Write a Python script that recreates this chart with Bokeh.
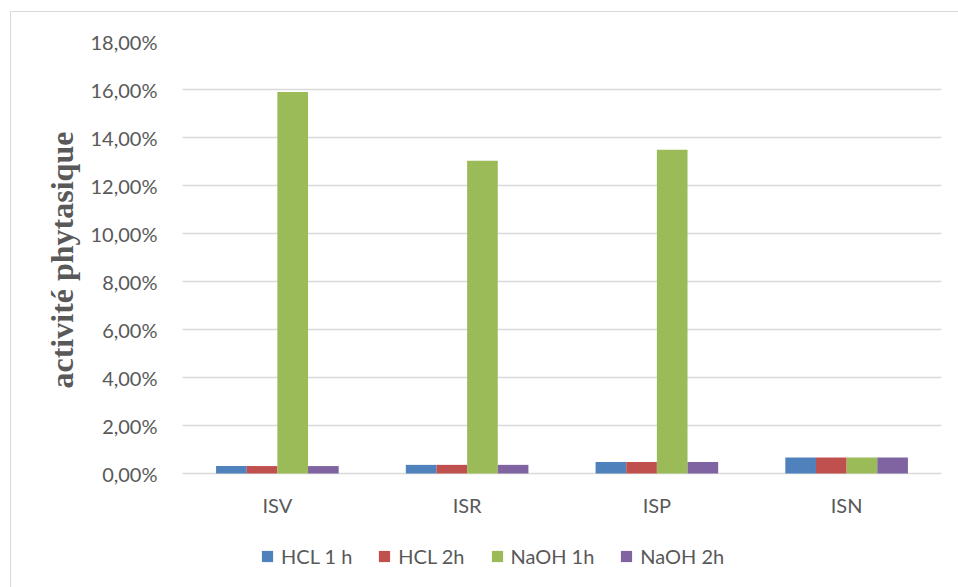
from bokeh.plotting import figure
from bokeh.models import (ColumnDataSource, FactorRange, Range1d, FixedTicker,
                          Legend, LegendItem, Title)
from bokeh.core.properties import value
from bokeh.transform import dodge
from bokeh.embed import file_html
from bokeh.resources import INLINE

# Phytase activity per sample and treatment (fractions, shown as %)
samples = ["ISV", "ISR", "ISP", "ISN"]
hcl_1h = [0.0031, 0.0036, 0.0048, 0.0067]
hcl_2h = [0.0031, 0.0036, 0.0048, 0.0067]
naoh_1h = [0.1590, 0.1303, 0.1349, 0.0067]
naoh_2h = [0.0031, 0.0036, 0.0048, 0.0067]

series_names = ["HCL 1 h", "HCL 2h", "NaOH 1h", "NaOH 2h"]
series_colors = ["#4F81BD", "#C0504D", "#9BBB59", "#8064A2"]

y_ticks = [0.0, 0.02, 0.04, 0.06, 0.08, 0.10, 0.12, 0.14, 0.16, 0.18]
y_tick_labels = ["0,00%", "2,00%", "4,00%", "6,00%", "8,00%",
                 "10,00%", "12,00%", "14,00%", "16,00%", "18,00%"]

y_title = "activité phytasique"

source = ColumnDataSource(data=dict(
    sample=samples, hcl_1h=hcl_1h, hcl_2h=hcl_2h,
    naoh_1h=naoh_1h, naoh_2h=naoh_2h, base=[0.0] * len(samples),
))

TEXT = "#595959"
GRID = "#D9D9D9"
FONT = "Lato"

# plot area runs below zero so the category labels and legend sit inside it
FIG_H = 576
TOP = 29
PX_PER_UNIT = 432 / 0.18
y_low = -(FIG_H - TOP - 432) / PX_PER_UNIT

p = figure(
    x_range=FactorRange(*samples, range_padding=0),
    y_range=Range1d(y_low, 0.18),
    width=948, height=FIG_H,
    x_axis_location=None,
    output_backend="svg", toolbar_location=None,
    min_border_left=171, min_border_right=18,
    min_border_top=TOP, min_border_bottom=0,
)
p.margin = (11, 0, 0, 10)
p.styles = {"border-left": f"1px solid {GRID}", "border-top": f"1px solid {GRID}"}
p.outline_line_color = None
p.background_fill_color = "white"
p.border_fill_color = "white"

# clustered bars: 4 series per sample, gap width ~219 %
bar_w = 1.0 / (4 + 2.19)
keys = ["hcl_1h", "hcl_2h", "naoh_1h", "naoh_2h"]
renderers = []
for i, (key, color) in enumerate(zip(keys, series_colors)):
    off = (i - 1.5) * bar_w
    r = p.vbar(x=dodge("sample", off, range=p.x_range), top=key, bottom=0,
               width=bar_w, source=source, fill_color=color, line_color=None)
    renderers.append(r)

# category labels under the zero line
p.text(x="sample", y="base", text="sample", source=source,
       text_align="center", text_baseline="middle", y_offset=31,
       text_font=value(FONT), text_font_size="20px", text_color=TEXT)

# y axis
p.yaxis.ticker = FixedTicker(ticks=y_ticks)
p.yaxis.major_label_overrides = dict(zip(y_ticks, y_tick_labels))
p.yaxis.axis_line_color = None
p.yaxis.major_tick_line_color = None
p.yaxis.minor_tick_line_color = None
p.yaxis.major_label_standoff = 19
p.yaxis.major_label_text_font = FONT
p.yaxis.major_label_text_font_size = "20px"
p.yaxis.major_label_text_color = TEXT

# axis title, centred on the 0-18 % span rather than the whole plot area
p.add_layout(Title(
    text=y_title, align="left", offset=200, standoff=15,
    text_font="Liberation Serif", text_font_style="bold",
    text_font_size="32px", text_color=TEXT,
), "left")

p.xgrid.grid_line_color = None
p.ygrid.grid_line_color = GRID
p.ygrid.grid_line_width = 1.3

legend = Legend(
    items=[LegendItem(label=n, renderers=[r]) for n, r in zip(series_names, renderers)],
    orientation="horizontal",
    location=(78, 20),
    glyph_width=14, glyph_height=14,
    label_standoff=7, spacing=25, padding=0, margin=0,
    label_text_font=FONT, label_text_font_size="20px", label_text_color=TEXT,
    border_line_color=None, background_fill_alpha=0,
)
p.add_layout(legend, "center")

open("out.html", "w").write(file_html(p, INLINE))
